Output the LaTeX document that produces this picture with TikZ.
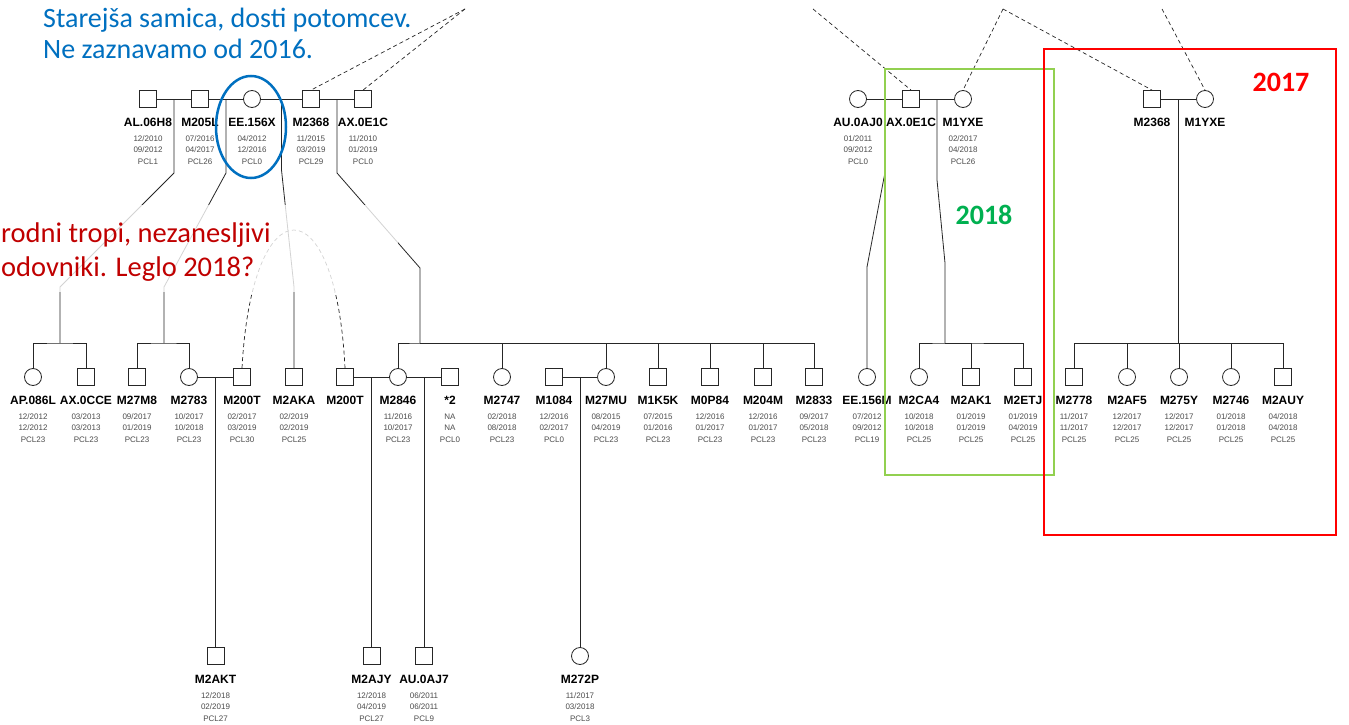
\documentclass[tikz,border=0pt]{standalone}
\usepackage{fontspec}
\setmainfont{Liberation Sans}
\newfontfamily\notefont{Carlito}
\definecolor{noteblue}{RGB}{0,112,192}
\definecolor{notered}{RGB}{192,0,0}
\definecolor{yrgreen}{RGB}{0,176,80}
\definecolor{boxgreen}{RGB}{146,208,80}
\definecolor{boxred}{RGB}{255,0,0}
\newcommand{\nm}[1]{{\fontsize{12}{14}\selectfont\bfseries\color{black}#1}}

\begin{document}
\begin{tikzpicture}[x=1pt, y=-1pt,
    male/.style={rectangle, draw=black!85, fill=white, line width=0.8pt, minimum size=17pt, inner sep=0pt},
    female/.style={circle, draw=black!85, fill=white, line width=0.8pt, minimum size=17pt, inner sep=0pt},
    info/.style={align=center, inner sep=0pt, yshift=-10pt, font=\fontsize{8}{11.5}\selectfont, text=black!70},
    rel/.style={draw=black!85, line width=0.8pt},
    dup/.style={draw=black!85, line width=0.7pt, dash pattern=on 4pt off 3pt},
    note/.style={align=left, inner sep=0pt, anchor=north west, font=\notefont\fontsize{28}{31}\selectfont},
    year/.style={inner sep=0pt, font=\notefont\bfseries\fontsize{28}{32}\selectfont},
    ]
    \fill [white] (0,0) rectangle (1349,725);
    \useasboundingbox (0,0) rectangle (1349,725);

    % parents, left
    \node [male, label={[info]below:{\nm{AL.06H8}\\[3.5pt]12/2010\\09/2012\\PCL1}}] (t1) at (148,99) {};
    \node [male, label={[info]below:{\nm{M205L}\\[3.5pt]07/2016\\04/2017\\PCL26}}] (t2) at (200,99) {};
    \node [female, label={[info]below:{\nm{EE.156X}\\[3.5pt]04/2012\\12/2016\\PCL0}}] (t3) at (252,99) {};
    \node [male, label={[info]below:{\nm{M2368}\\[3.5pt]11/2015\\03/2019\\PCL29}}] (t4) at (311,99) {};
    \node [male, label={[info]below:{\nm{AX.0E1C}\\[3.5pt]11/2010\\01/2019\\PCL0}}] (t5) at (363,99) {};

    % parents, right
    \node [female, label={[info]below:{\nm{AU.0AJ0}\\[3.5pt]01/2011\\09/2012\\PCL0}}] (r1) at (858,99) {};
    \node [male, label={[info]below:{\nm{AX.0E1C}}}] (r2) at (911,99) {};
    \node [female, label={[info]below:{\nm{M1YXE}\\[3.5pt]02/2017\\04/2018\\PCL26}}] (r3) at (963,99) {};
    \node [male, label={[info]below:{\nm{M2368}}}] (r4) at (1152,99) {};
    \node [female, label={[info]below:{\nm{M1YXE}}}] (r5) at (1205,99) {};

    % offspring
    \node [female, label={[info]below:{\nm{AP.086L}\\[3.5pt]12/2012\\12/2012\\PCL23}}] (a1) at (33,377) {};
    \node [male, label={[info]below:{\nm{AX.0CCE}\\[3.5pt]03/2013\\03/2013\\PCL23}}] (a2) at (86,377) {};
    \node [male, label={[info]below:{\nm{M27M8}\\[3.5pt]09/2017\\01/2019\\PCL23}}] (a3) at (137,377) {};
    \node [female, label={[info]below:{\nm{M2783}\\[3.5pt]10/2017\\10/2018\\PCL23}}] (a4) at (189,377) {};
    \node [male, label={[info]below:{\nm{M200T}\\[3.5pt]02/2017\\03/2019\\PCL30}}] (a5) at (242,377) {};
    \node [male, label={[info]below:{\nm{M2AKA}\\[3.5pt]02/2019\\02/2019\\PCL25}}] (a6) at (294,377) {};
    \node [male, label={[info]below:{\nm{M200T}}}] (a7) at (345,377) {};
    \node [female, label={[info]below:{\nm{M2846}\\[3.5pt]11/2016\\10/2017\\PCL23}}] (a8) at (398,377) {};
    \node [male, label={[info]below:{\nm{*2}\\[3.5pt]NA\\NA\\PCL0}}] (a9) at (450,377) {};
    \node [female, label={[info]below:{\nm{M2747}\\[3.5pt]02/2018\\08/2018\\PCL23}}] (a10) at (502,377) {};
    \node [male, label={[info]below:{\nm{M1084}\\[3.5pt]12/2016\\02/2017\\PCL0}}] (a11) at (554,377) {};
    \node [female, label={[info]below:{\nm{M27MU}\\[3.5pt]08/2015\\04/2019\\PCL23}}] (a12) at (606,377) {};
    \node [male, label={[info]below:{\nm{M1K5K}\\[3.5pt]07/2015\\01/2016\\PCL23}}] (a13) at (658,377) {};
    \node [male, label={[info]below:{\nm{M0P84}\\[3.5pt]12/2016\\01/2017\\PCL23}}] (a14) at (710,377) {};
    \node [male, label={[info]below:{\nm{M204M}\\[3.5pt]12/2016\\01/2017\\PCL23}}] (a15) at (763,377) {};
    \node [male, label={[info]below:{\nm{M2833}\\[3.5pt]09/2017\\05/2018\\PCL23}}] (a16) at (814,377) {};
    \node [female, label={[info]below:{\nm{EE.156M}\\[3.5pt]07/2012\\09/2012\\PCL19}}] (a17) at (867,377) {};
    \node [female, label={[info]below:{\nm{M2CA4}\\[3.5pt]10/2018\\10/2018\\PCL25}}] (a18) at (919,377) {};
    \node [male, label={[info]below:{\nm{M2AK1}\\[3.5pt]01/2019\\01/2019\\PCL25}}] (a19) at (971,377) {};
    \node [male, label={[info]below:{\nm{M2ETJ}\\[3.5pt]01/2019\\04/2019\\PCL25}}] (a20) at (1023,377) {};
    \node [male, label={[info]below:{\nm{M2778}\\[3.5pt]11/2017\\11/2017\\PCL25}}] (a21) at (1074,377) {};
    \node [female, label={[info]below:{\nm{M2AF5}\\[3.5pt]12/2017\\12/2017\\PCL25}}] (a22) at (1127,377) {};
    \node [female, label={[info]below:{\nm{M275Y}\\[3.5pt]12/2017\\12/2017\\PCL25}}] (a23) at (1179,377) {};
    \node [female, label={[info]below:{\nm{M2746}\\[3.5pt]01/2018\\01/2018\\PCL25}}] (a24) at (1231,377) {};
    \node [male, label={[info]below:{\nm{M2AUY}\\[3.5pt]04/2018\\04/2018\\PCL25}}] (a25) at (1283,377) {};

    % grandchildren
    \node [male, label={[info]below:{\nm{M2AKT}\\[3.5pt]12/2018\\02/2019\\PCL27}}] (b1) at (215.5,656) {};
    \node [male, label={[info]below:{\nm{M2AJY}\\[3.5pt]12/2018\\04/2019\\PCL27}}] (b2) at (371.5,656) {};
    \node [male, label={[info]below:{\nm{AU.0AJ7}\\[3.5pt]06/2011\\06/2011\\PCL9}}] (b3) at (424,656) {};
    \node [female, label={[info]below:{\nm{M272P}\\[3.5pt]11/2017\\03/2018\\PCL3}}] (b4) at (580,656) {};

    % mates
    \draw [rel] (t1) edge (t2) (t2) edge (t3) (t3) edge (t4) (t4) edge (t5);
    \draw [rel] (r1) edge (r2) (r2) edge (r3) (r4) edge (r5);
    \draw [rel] (a4) edge (a5) (a7) edge (a8) (a8) edge (a9) (a11) edge (a12);

    % descent lines
    \coordinate (c1) at (174,99);
    \coordinate (s1) at (60,343);
    \draw [rel] (c1) -- (174,173) -- (60,287) -- (s1);
    \draw [rel] (a1) |- (s1) -| (a2);

    \coordinate (c2) at (226,99);
    \coordinate (s2) at (164,343);
    \draw [rel] (c2) -- (226,173) -- (164,287) -- (s2);
    \draw [rel] (a3) |- (s2) -| (a4);

    \coordinate (c3) at (281.5,99);
    \draw [rel] (c3) -- (281.5,170) -- (294,287) -- (a6);

    \coordinate (c4) at (337,99);
    \coordinate (s3) at (420,343);
    \draw [rel] (c4) -- (337,173) -- (420,268) -- (s3);
    \draw [rel] (a8) |- (s3) -| (a16);
    \draw [rel] (s3) -| (a10);
    \draw [rel] (s3) -| (a12);
    \draw [rel] (s3) -| (a13);
    \draw [rel] (s3) -| (a14);
    \draw [rel] (s3) -| (a15);

    \coordinate (c5) at (884.5,99);
    \draw [rel] (c5) -- (884.5,175) -- (867,267) -- (a17);

    \coordinate (c6) at (937,99);
    \coordinate (s4) at (945,343);
    \draw [rel] (c6) -- (937,180) -- (945,263) -- (s4);
    \draw [rel] (a18) |- (s4) -| (a20);
    \draw [rel] (s4) -| (a19);

    \coordinate (c7) at (1178.5,99);
    \coordinate (s5) at (1178.5,343);
    \draw [rel] (c7) -- (s5);
    \draw [rel] (a21) |- (s5) -| (a25);
    \draw [rel] (s5) -| (a22);
    \draw [rel] (s5) -| (a23);
    \draw [rel] (s5) -| (a24);

    \coordinate (c8) at (215.5,377);
    \draw [rel] (c8) -- (b1);
    \coordinate (c9) at (371.5,377);
    \draw [rel] (c9) -- (b2);
    \coordinate (c10) at (424,377);
    \draw [rel] (c10) -- (b3);
    \coordinate (c11) at (580,377);
    \draw [rel] (c11) -- (b4);

    % same animal twice
    \draw [dup] (a5.north) .. controls (252,184) and (336,184) .. (a7.north);
    \coordinate (u1) at (465,9);
    \coordinate (u2) at (813,9);
    \coordinate (u3) at (1003,9);
    \coordinate (u4) at (1162,9);
    \draw [dup] (u1) -- (t4.north);
    \draw [dup] (u1) -- (t5.north);
    \draw [dup] (u2) -- (r2.north);
    \draw [dup] (u3) -- (r3.north);
    \draw [dup] (u3) -- (r4.north);
    \draw [dup] (u4) -- (r5.north);

    % notes
    \node [fill=white, fill opacity=0.8, inner sep=0pt, minimum width=398pt, minimum height=87pt, anchor=north west] (veil) at (0,205) {};
    \node [note, text=notered, font=\notefont\fontsize{28.5}{34}\selectfont] (note2) at (1,223) {rodni tropi, nezanesljivi\\odovniki. Leglo 2018?};
    \node [note, text=noteblue] (note1) at (43,8) {Starejša samica, dosti potomcev.\\Ne zaznavamo od 2016.};
    \draw [noteblue, line width=2.5pt] (251,127) ellipse [x radius=35pt, y radius=51pt];

    \draw [boxgreen, line width=2.5pt] (885,69) rectangle (1054,475);
    \draw [boxred, line width=2.5pt] (1044,49) rectangle (1336,535);
    \node [year, text=yrgreen] (y2018) at (984,215) {2018};
    \node [year, text=boxred] (y2017) at (1281,82) {2017};
\end{tikzpicture}
\end{document}
